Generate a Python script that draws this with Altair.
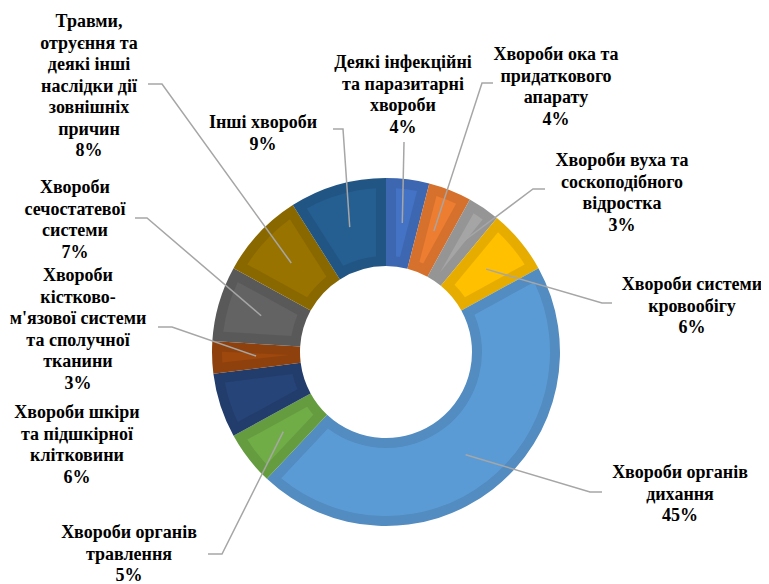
import math
import altair as alt
import pandas as pd

# ---------------- data ----------------
categories = [
    "Деякі інфекційні та паразитарні хвороби",
    "Хвороби ока та придаткового апарату",
    "Хвороби вуха та соскоподібного відростка",
    "Хвороби системи кровообігу",
    "Хвороби органів дихання",
    "Хвороби органів травлення",
    "Хвороби шкіри та підшкірної клітковини",
    "Хвороби кістково-м'язової системи та сполучної тканини",
    "Хвороби сечостатевої системи",
    "Травми, отруєння та деякі інші наслідки дії зовнішніх причин",
    "Інші хвороби",
]
values = [4, 4, 3, 6, 45, 5, 6, 3, 7, 8, 9]

# wrapped label text (as in the reference)
wrapped = [
    "Деякі інфекційні\nта паразитарні\nхвороби",
    "Хвороби ока та\nпридаткового\nапарату",
    "Хвороби вуха та\nсоскоподібного\nвідростка",
    "Хвороби системи\nкровообігу",
    "Хвороби органів\nдихання",
    "Хвороби органів\nтравлення",
    "Хвороби шкіри\nта підшкірної\nклітковини",
    "Хвороби\nкістково-\nм'язової системи\nта сполучної\nтканини",
    "Хвороби\nсечостатевої\nсистеми",
    "Травми,\nотруєння та\nдеякі інші\nнаслідки дії\nзовнішніх\nпричин",
    "Інші хвороби",
]

# ---------------- styles ----------------
fill_colors = ["#4472C4", "#ED7D31", "#A5A5A5", "#FFC000", "#5B9BD5", "#70AD47",
               "#264478", "#9E480E", "#636363", "#997300", "#255E91"]
border_colors = ["#3D67B0", "#D5712C", "#959595", "#E6AD00", "#528CC0", "#659C40",
                 "#223D6C", "#8E410D", "#595959", "#8A6800", "#215583"]
FONT = "Liberation Serif"

# ---------------- layout (page pixel coordinates) ----------------
W, H = 753, 576
CX, CY = 386, 352
R_OUT, R_IN = 174, 86
BORDER = 10
ANCHOR_R = 130
FONT_SIZE = 18
LINE_H = 21.5
LINE_CENTER = 9

# label centre x and first-line centre y
label_pos = [(403, 63), (556, 55), (622, 161), (692, 285), (680, 473),
             (129, 533), (77, 413), (78, 276), (75, 188), (89, 22), (263, 123)]
# leader line: points from label side towards slice (anchor appended from data)
leader_pts = [
    [(404, 142)],
    [(493, 83), (482, 83)],
    [(545, 189), (533, 189)],
    [(612, 303), (602, 303)],
    [(602, 492), (590, 492)],
    [(208, 554), (222, 554)],
    None,
    [(158, 327), (172, 327)],
    [(135, 218), (147, 218)],
    [(148, 84), (162, 84)],
    [(333, 129), (343, 129)],
]

# ---------------- build tables ----------------
total = sum(values)
starts, ends = [], []
acc = 0.0
for v in values:
    starts.append(acc / total * 100)
    acc += v
    ends.append(acc / total * 100)

df = pd.DataFrame({
    "category": categories,
    "value": values,
    "start": starts,
    "end": ends,
    "fill": fill_colors,
    "border": border_colors,
    "cx": CX,
    "cy": CY,
})

lab_rows = []
line_rows = []
for i, (cat, v) in enumerate(zip(categories, values)):
    pct = f"{round(v / total * 100)}%"
    lx, ly = label_pos[i]
    lab_rows.append({"x": lx, "y": ly - LINE_CENTER, "text": wrapped[i] + "\n" + pct})
    pts = leader_pts[i]
    if pts:
        mid = (starts[i] + ends[i]) / 2 / 100 * 2 * math.pi
        ax = CX + ANCHOR_R * math.sin(mid)
        ay = CY - ANCHOR_R * math.cos(mid)
        allp = list(pts) + [(ax, ay)]
        for k, (px, py) in enumerate(allp):
            line_rows.append({"id": i, "k": k, "x": px, "y": py})

labels_df = pd.DataFrame(lab_rows)
lines_df = pd.DataFrame(line_rows)

xs = alt.Scale(domain=[8, 8 + W], nice=False, zero=False)
ys = alt.Scale(domain=[8, 8 + H], nice=False, zero=False, reverse=True)
th = alt.Scale(domain=[0, 100], range=[0, 2 * math.pi])

base_arc = alt.Chart(df).encode(
    x=alt.X("cx:Q", scale=xs, axis=None),
    y=alt.Y("cy:Q", scale=ys, axis=None),
    theta=alt.Theta("start:Q", scale=th),
    theta2="end:Q",
)

outer = base_arc.mark_arc(innerRadius=R_IN, outerRadius=R_OUT).encode(
    color=alt.Color("border:N", scale=None)
)
pr = math.sqrt((R_IN + BORDER) ** 2 + (R_OUT - BORDER) ** 2)
inner = base_arc.mark_arc(
    innerRadius=R_IN + BORDER, outerRadius=R_OUT - BORDER, padAngle=2 * BORDER / pr
).encode(color=alt.Color("fill:N", scale=None))

leaders = alt.Chart(lines_df).mark_line(color="#A6A6A6", strokeWidth=1.5).encode(
    x=alt.X("x:Q", scale=xs, axis=None),
    y=alt.Y("y:Q", scale=ys, axis=None),
    detail="id:N",
    order="k:Q",
)

texts = alt.Chart(labels_df).mark_text(
    align="center", baseline="top", font=FONT, fontWeight="bold",
    fontSize=FONT_SIZE, lineHeight=LINE_H, lineBreak="\n", color="#000000",
).encode(
    x=alt.X("x:Q", scale=xs, axis=None),
    y=alt.Y("y:Q", scale=ys, axis=None),
    text="text:N",
)

chart = alt.layer(outer, inner, leaders, texts).properties(
    width=W, height=H, autosize="none", padding=0, background="white"
).configure_view(stroke=None)

chart.save("out.html", embed_options={"renderer": "svg", "actions": False})
